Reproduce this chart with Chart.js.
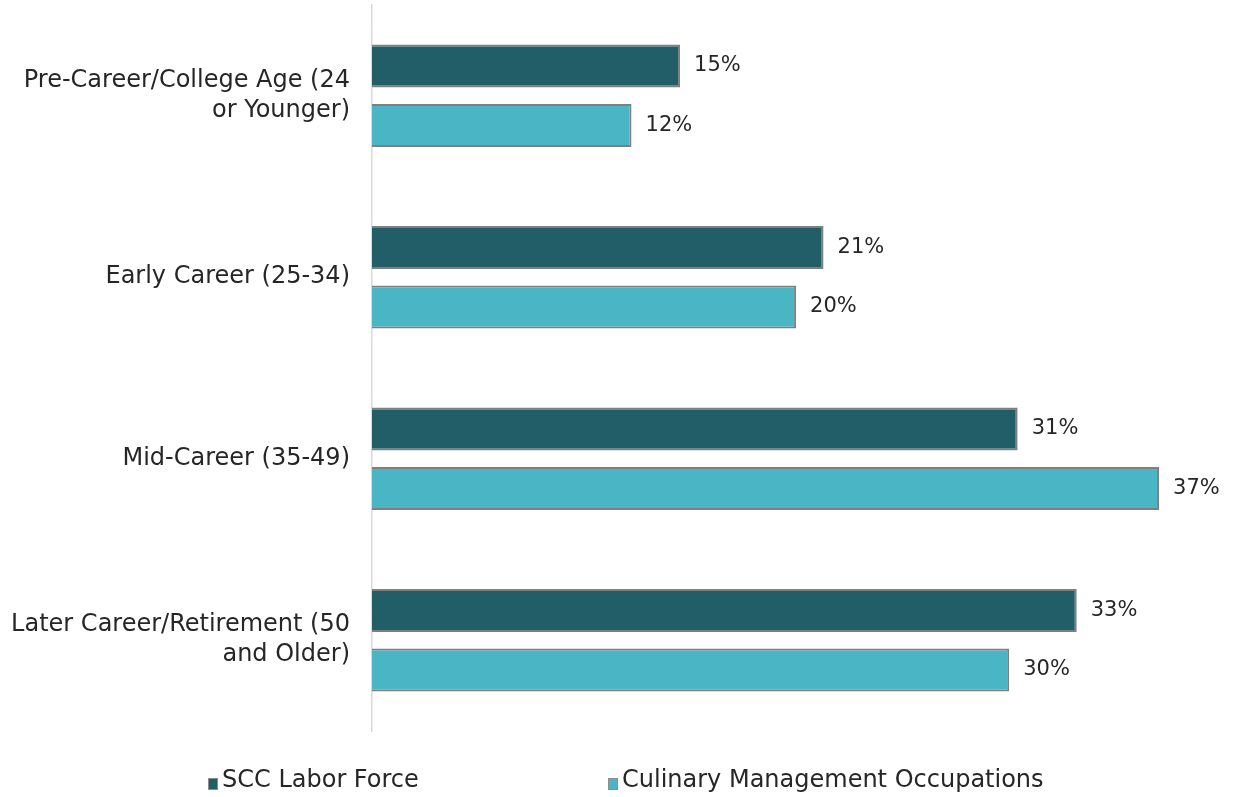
<!DOCTYPE html>
<html>
<head>
<meta charset="utf-8">
<script src="https://cdn.jsdelivr.net/npm/chart.js@4"></script>
<style>
html,body{margin:0;padding:0;background:#fff;}
#wrap{width:1235px;height:797px;position:relative;}
</style>
</head>
<body>
<div id="wrap"><canvas id="c" width="1235" height="797"></canvas></div>
<script>
const categories = [
  ['Pre-Career/College Age (24', 'or Younger)'],
  ['Early Career (25-34)'],
  ['Mid-Career (35-49)'],
  ['Later Career/Retirement (50', 'and Older)']
];
const seriesNames = ['SCC Labor Force', 'Culinary Management Occupations'];
const sccLaborForce = [14.6, 21.4, 30.6, 33.4];
const culinaryManagement = [12.3, 20.1, 37.3, 30.2];

const FONT = 'DejaVu Sans';
const TEXT = '#262626';
const COLORS = ['#215e67', '#4ab5c4'];

const valueLabels = {
  id: 'valueLabels',
  afterDatasetsDraw(chart) {
    const ctx = chart.ctx;
    ctx.save();
    ctx.font = '21px "' + FONT + '"';
    ctx.fillStyle = TEXT;
    ctx.textAlign = 'left';
    ctx.textBaseline = 'middle';
    chart.data.datasets.forEach((ds, i) => {
      chart.getDatasetMeta(i).data.forEach((bar, j) => {
        ctx.fillText(Math.round(ds.data[j]) + '%', bar.x + 14, bar.y);
      });
    });
    ctx.restore();
  }
};

const customLegend = {
  id: 'customLegend',
  afterDraw(chart) {
    const ctx = chart.ctx;
    const starts = [208, 608];
    const y = 781;
    ctx.save();
    ctx.font = '24px "' + FONT + '"';
    ctx.textBaseline = 'middle';
    ctx.textAlign = 'left';
    chart.data.datasets.forEach((ds, i) => {
      const x = starts[i];
      ctx.fillStyle = ds.backgroundColor;
      ctx.fillRect(x, y - 3, 10, 12);
      ctx.strokeStyle = '#8c8c8c';
      ctx.lineWidth = 1;
      ctx.strokeRect(x + 0.5, y - 2.5, 9, 11);
      ctx.fillStyle = TEXT;
      ctx.fillText(ds.label, x + 14, y);
    });
    ctx.restore();
  }
};

new Chart(document.getElementById('c'), {
  type: 'bar',
  data: {
    labels: categories,
    datasets: [
      { label: seriesNames[0], data: sccLaborForce, backgroundColor: COLORS[0], borderColor: '#7f7f7f', borderWidth: 2 },
      { label: seriesNames[1], data: culinaryManagement, backgroundColor: COLORS[1], borderColor: '#7f7f7f', borderWidth: 2 }
    ]
  },
  options: {
    indexAxis: 'y',
    responsive: false,
    animation: false,
    categoryPercentage: 0.656,
    barPercentage: 0.72,
    layout: { padding: { top: 5, right: 19, bottom: 66, left: 0 } },
    plugins: {
      legend: { display: false },
      tooltip: { enabled: false }
    },
    scales: {
      x: { display: false, min: 0, max: 40 },
      y: {
        grid: { display: false, drawTicks: false },
        border: { display: true, color: '#d9d9d9', width: 1.5 },
        ticks: {
          padding: 22,
          color: TEXT,
          font: { family: FONT, size: 24, lineHeight: 1.25 }
        },
        afterFit(scale) {
          scale.width = 372;
          scale.paddingTop = 0;
          scale.paddingBottom = 0;
        }
      }
    }
  },
  plugins: [valueLabels, customLegend]
});
</script>
</body>
</html>
